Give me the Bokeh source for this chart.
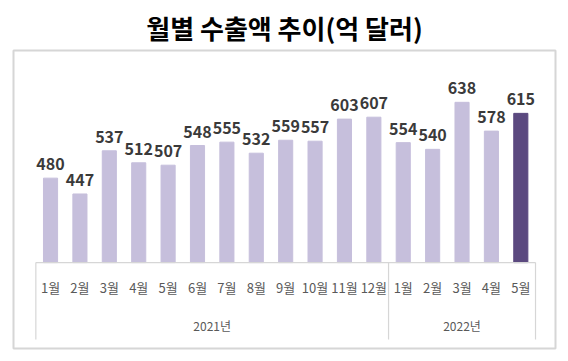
from bokeh.plotting import figure
from bokeh.models import Range1d, ColumnDataSource
from bokeh.core.properties import value
from bokeh.embed import file_html
from bokeh.resources import INLINE

# ---- data ----
months = ["1월", "2월", "3월", "4월", "5월", "6월", "7월", "8월", "9월", "10월", "11월", "12월",
          "1월", "2월", "3월", "4월", "5월"]
years = ["2021년"] * 12 + ["2022년"] * 5
exports = [480, 447, 537, 512, 507, 548, 555, 532, 559, 557, 603, 607,
           554, 540, 638, 578, 615]

# ---- style ----
LIGHT = "#C6BFDC"
DARK = "#5B497F"
GRID = "#D6D6D6"
FONT = "Noto Sans CJK KR"
BASE = 304          # value at the bar baseline
Y_START, Y_END = 125, 746
X_START, X_END = -1.26, 17.18
PX_PER_UNIT = 0.48  # vertical pixels per value unit

n = len(months)
xs = list(range(n))
colors = [LIGHT] * (n - 1) + [DARK]

src = ColumnDataSource(dict(x=xs, top=exports, base=[BASE] * n, color=colors,
                            month=months, label=[str(v) for v in exports]))

p = figure(width=560, height=353, output_backend="svg", toolbar_location=None,
           x_range=Range1d(X_START, X_END), y_range=Range1d(Y_START, Y_END),
           x_axis_location=None, y_axis_location=None,
           min_border_left=13, min_border_right=5, min_border_top=50, min_border_bottom=5,
           title="월별 수출액 추이(억 달러)")
p.grid.visible = False
p.outline_line_color = GRID
p.outline_line_width = 2
p.background_fill_color = "white"
p.border_fill_color = "white"

p.title.align = "center"
p.title.text_font = FONT
p.title.text_font_size = "26px"
p.title.text_font_style = "bold"
p.title.text_color = "#000000"
p.title.offset = -7
p.title.text_line_height = 0.8

p.vbar(x="x", top="top", bottom="base", width=0.48, color="color", source=src)

p.text(x="x", y="top", text="label", source=src, text_align="center", text_baseline="bottom",
       y_offset=-8, text_font=value(FONT), text_font_size="16px", text_font_style="bold",
       text_color="#3A3A3A")

p.text(x="x", y="base", text="month", source=src, text_align="center", text_baseline="middle",
       y_offset=25, text_font=value(FONT), text_font_size="13px", text_color="#595959")

# year groups
groups = []
for i, y in enumerate(years):
    if not groups or groups[-1][0] != y:
        groups.append([y, i, i])
    else:
        groups[-1][2] = i
gx = [(g[1] + g[2]) / 2 for g in groups]
gl = [g[0] for g in groups]
p.text(x=gx, y=[BASE] * len(gx), text=gl, text_align="center", text_baseline="middle",
       y_offset=63, text_font=value(FONT), text_font_size="12px", text_color="#595959")

# axis lines
bottom_y = BASE - 77 / PX_PER_UNIT
bounds = [groups[0][1] - 0.5] + [g[2] + 0.5 for g in groups]
p.segment(x0=[-0.5], y0=[BASE], x1=[n - 0.5], y1=[BASE], line_color=GRID, line_width=1.2)
p.segment(x0=bounds, y0=[BASE] * len(bounds), x1=bounds, y1=[bottom_y] * len(bounds),
          line_color=GRID, line_width=1.2)

open("out.html", "w").write(file_html(p, INLINE))
